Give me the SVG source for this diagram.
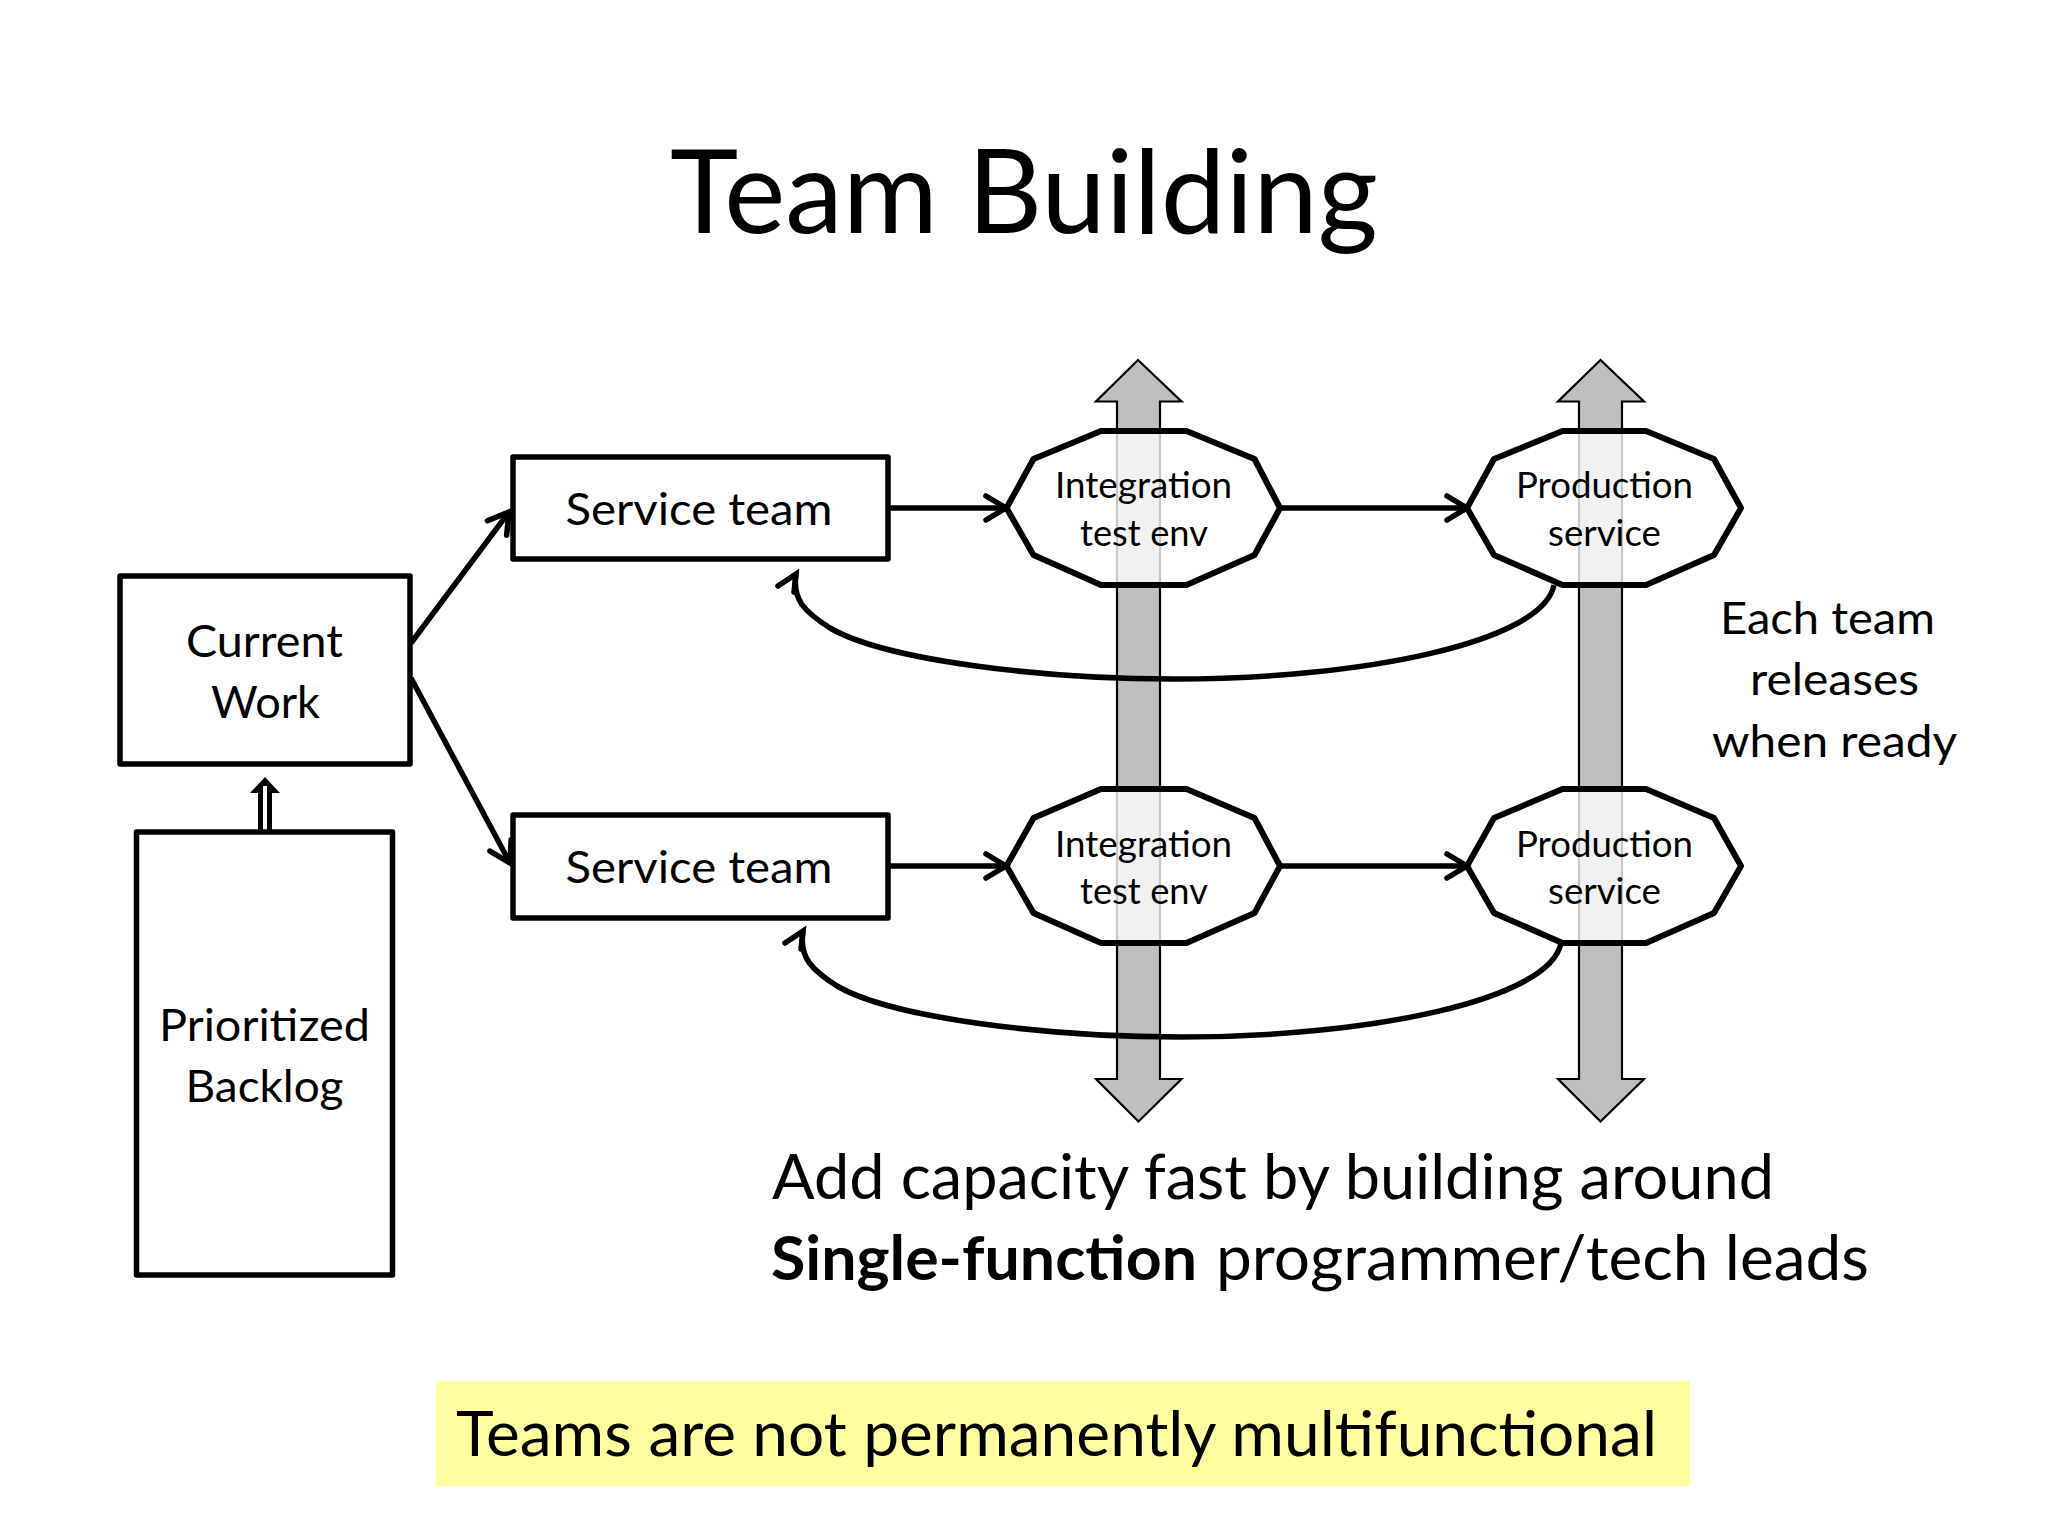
<svg xmlns="http://www.w3.org/2000/svg" width="2048" height="1536" viewBox="0 0 2048 1536">
<style>
text{font-family:"Lato","Open Sans","Liberation Sans",sans-serif;fill:#000}
.box{fill:#fff;stroke:#000;stroke-width:5.500;stroke-linejoin:round}
.oct{fill:#fff;fill-opacity:.78;stroke:#000;stroke-width:6;stroke-linejoin:round}
.bus{fill:#bfbfbf;stroke:#000;stroke-width:2.200;stroke-linejoin:miter}
.c{fill:none;stroke:#000;stroke-width:5.500;marker-end:url(#open)}
.r{fill:none;stroke:#000;stroke-width:5.500;marker-end:url(#hook)}
.m{font-size:45px}.s{font-size:36px}.l{font-size:62px}
</style>
<defs>
<marker id="open" markerUnits="userSpaceOnUse" markerWidth="30" markerHeight="34" viewBox="-24 -17 30 34" refX="0" refY="0" orient="auto">
<path d="M-20-12L0 0L-20 12" fill="none" stroke="#000" stroke-width="5.500" stroke-linecap="round" stroke-linejoin="miter"/>
</marker>
<marker id="hook" markerUnits="userSpaceOnUse" markerWidth="34" markerHeight="34" viewBox="-25 -9 34 34" refX="0" refY="0" orient="0">
<path d="M-18 12L0 0L-2 18" fill="none" stroke="#000" stroke-width="5.500" stroke-linecap="round" stroke-linejoin="miter"/>
</marker>
</defs>
<rect width="2048" height="1536" fill="#fff"/>
<text id="title" x="670" y="233" font-size="116" textLength="708" lengthAdjust="spacingAndGlyphs">Team Building</text>
<g id="buses">
<path class="bus" d="M1138 360L1181.500 401.500H1160V1079H1181.500L1138.500 1121.500L1096 1079H1117V401.500H1096Z"/>
<path class="bus" d="M1600.500 360L1644 401.500H1622V1079H1644L1600.500 1121.500L1558 1079H1579V401.500H1558Z"/>
</g>
<g id="connectors">
<path class="c" d="M411 643L509 512"/>
<path class="c" d="M411 678L510 863"/>
<path class="c" d="M887 508H1006"/>
<path class="c" d="M1280 508H1467"/>
<path class="c" d="M887 866H1006"/>
<path class="c" d="M1280 866H1467"/>
<path class="r" d="M1554 585C1543 642 1363 679 1174 679C1040 679 885 660 830 628C805 612 792 600 796 574"/>
<path class="r" d="M1561 943C1550 1000 1370 1037 1181 1037C1047 1037 892 1018 837 986C812 970 799 958 803 931"/>
<path d="M258 832V793H250L265 777L280 793H272V832Z" fill="#000"/>
<path d="M265 832V786" fill="none" stroke="#fff" stroke-width="4"/>
</g>
<g id="current-work">
<rect class="box" x="120" y="576" width="290" height="188"/>
<text class="m" x="186" y="657" textLength="157" lengthAdjust="spacingAndGlyphs">Current</text>
<text class="m" x="211" y="717.500" textLength="109" lengthAdjust="spacingAndGlyphs">Work</text>
</g>
<g id="backlog">
<rect class="box" x="136.500" y="832" width="256" height="443"/>
<text class="m" x="159" y="1040.500" textLength="211" lengthAdjust="spacingAndGlyphs">Prioritized</text>
<text class="m" x="185.500" y="1102" textLength="158" lengthAdjust="spacingAndGlyphs">Backlog</text>
</g>
<g id="service-team-1">
<rect class="box" x="513" y="457" width="375" height="102"/>
<text class="m" x="565.500" y="525" textLength="267" lengthAdjust="spacingAndGlyphs">Service team</text>
</g>
<g id="service-team-2">
<rect class="box" x="513" y="815" width="375" height="103"/>
<text class="m" x="565.500" y="883" textLength="267" lengthAdjust="spacingAndGlyphs">Service team</text>
</g>
<g id="integration-1">
<path class="oct" d="M1006.500 508L1033.500 459L1101 431H1186.500L1254.500 459L1280 508L1254.500 555L1186.500 585H1101L1033.500 555Z"/>
<text class="s" x="1055" y="498" textLength="177" lengthAdjust="spacingAndGlyphs">Integration</text>
<text class="s" x="1080" y="546" textLength="128" lengthAdjust="spacingAndGlyphs">test env</text>
</g>
<g id="production-1">
<path class="oct" d="M1467 508L1494 459L1562.500 431H1646L1714 459L1741 508L1714 555L1646 585H1562.500L1494 555Z"/>
<text class="s" x="1516" y="498" textLength="177" lengthAdjust="spacingAndGlyphs">Production</text>
<text class="s" x="1548" y="546" textLength="113" lengthAdjust="spacingAndGlyphs">service</text>
</g>
<g id="integration-2">
<path class="oct" d="M1006.500 866L1033.500 818L1101 789H1186.500L1254.500 818L1280 866L1254.500 913L1186.500 943H1101L1033.500 913Z"/>
<text class="s" x="1055" y="857" textLength="177" lengthAdjust="spacingAndGlyphs">Integration</text>
<text class="s" x="1080" y="904" textLength="128" lengthAdjust="spacingAndGlyphs">test env</text>
</g>
<g id="production-2">
<path class="oct" d="M1467 866L1494 818L1562.500 789H1646L1714 818L1741 866L1714 913L1646 943H1562.500L1494 913Z"/>
<text class="s" x="1516" y="857" textLength="177" lengthAdjust="spacingAndGlyphs">Production</text>
<text class="s" x="1548" y="904" textLength="113" lengthAdjust="spacingAndGlyphs">service</text>
</g>
<g id="note">
<text class="m" x="1720" y="634" textLength="215" lengthAdjust="spacingAndGlyphs">Each team</text>
<text class="m" x="1750" y="695" textLength="169" lengthAdjust="spacingAndGlyphs">releases</text>
<text class="m" x="1712" y="757" textLength="245" lengthAdjust="spacingAndGlyphs">when ready</text>
</g>
<g id="caption">
<text class="l" x="772" y="1199" textLength="1002" lengthAdjust="spacingAndGlyphs">Add capacity fast by building around</text>
<text class="l" x="771" y="1280" font-weight="700" textLength="426" lengthAdjust="spacingAndGlyphs">Single-function</text>
<text class="l" x="1216" y="1280" textLength="653" lengthAdjust="spacingAndGlyphs">programmer/tech leads</text>
</g>
<g id="callout">
<rect x="436" y="1381" width="1254" height="105" fill="#ffffa0"/>
<text class="l" x="456" y="1456" textLength="1201" lengthAdjust="spacingAndGlyphs">Teams are not permanently multifunctional</text>
</g>
</svg>
